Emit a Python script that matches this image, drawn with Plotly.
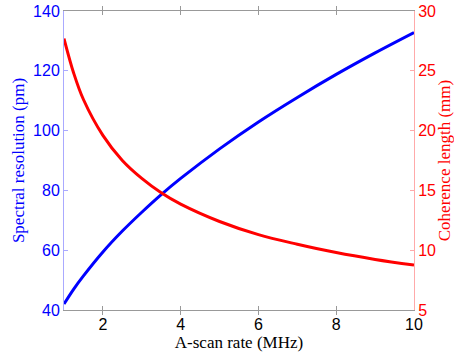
import plotly.graph_objects as go

rate_mhz = [1, 1.25, 1.5, 2, 2.5, 3, 3.5, 4, 5, 6, 7, 8, 9, 10]
spectral_res_pm = [42.0, 47.0, 51.4, 59.4, 66.4, 72.7, 78.6, 84.0, 93.9, 102.9, 111.1, 118.8, 126.0, 132.8]
coherence_mm = [27.7, 24.8, 22.6, 19.6, 17.5, 16.0, 14.8, 13.85, 12.4, 11.3, 10.5, 9.8, 9.23, 8.76]

x_ticks = [2, 4, 6, 8, 10]
left_ticks = [40, 60, 80, 100, 120, 140]
right_ticks = [5, 10, 15, 20, 25, 30]

tick_font = dict(family="Liberation Sans, Arial", size=16)
title_font = dict(family="Liberation Serif, Times New Roman", size=17)

fig = go.Figure()
fig.add_trace(go.Scatter(x=rate_mhz, y=spectral_res_pm, mode="lines",
                         line=dict(color="#0000ff", width=3, shape="spline"),
                         yaxis="y", showlegend=False))
fig.add_trace(go.Scatter(x=rate_mhz, y=coherence_mm, mode="lines",
                         line=dict(color="#ff0000", width=3, shape="spline"),
                         yaxis="y2", showlegend=False))

fig.update_layout(
    width=454, height=356,
    margin=dict(l=64, r=40, t=11, b=46),
    paper_bgcolor="white", plot_bgcolor="white",
    xaxis=dict(range=[1, 10], tickvals=x_ticks, ticks="inside", ticklen=4,
               tickcolor="#999999", showline=True, linecolor="#999999", linewidth=1,
               mirror="allticks", showgrid=False, zeroline=False, automargin=False,
               tickfont=dict(color="black", **tick_font),
               title=dict(text="A-scan rate (MHz)", font=dict(color="black", **title_font), standoff=2)),
    yaxis=dict(range=[40, 140], tickvals=left_ticks, ticks="inside", ticklen=4,
               tickcolor="#aaaaff", showline=True, linecolor="#aaaaff", linewidth=1,
               showgrid=False, zeroline=False, automargin=False,
               tickfont=dict(color="#0000ff", **tick_font),
               title=dict(text="Spectral resolution (pm)", font=dict(color="#0000ff", **title_font), standoff=4)),
    yaxis2=dict(range=[5, 30], tickvals=right_ticks, ticks="inside", ticklen=4,
                tickcolor="#ffaaaa", showline=True, linecolor="#ffaaaa", linewidth=1,
                overlaying="y", side="right", showgrid=False, zeroline=False, automargin=False,
                tickfont=dict(color="#ff0000", **tick_font),
                title=dict(text="Coherence length (mm)", font=dict(color="#ff0000", **title_font), standoff=4)),
)

fig.write_html("out.html")
